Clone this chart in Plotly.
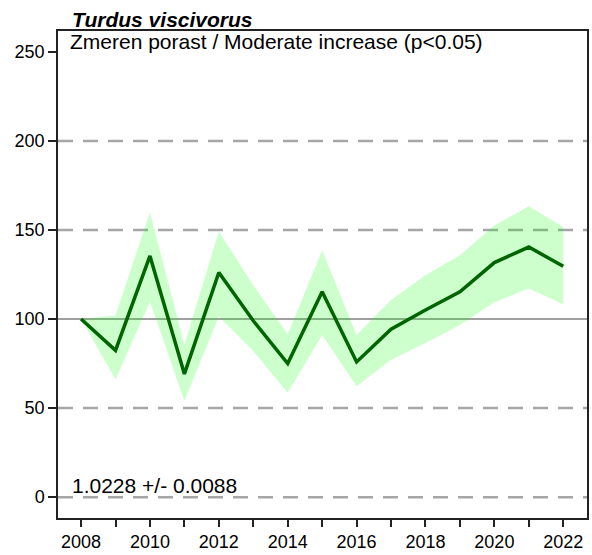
import plotly.graph_objects as go

# Yearly index (2008 = 100) with its confidence band
years = list(range(2008, 2023))
index_values = [100, 82.4, 135.4, 69.2, 126.1, 99.0, 75.0, 115.3, 75.9, 94.3,
                105.1, 115.3, 131.7, 140.4, 129.6]
upper_ci = [100, 102.0, 160.0, 85.6, 149.2, 119.0, 91.5, 138.6, 91.1, 110.7,
            124.6, 135.8, 152.5, 163.3, 151.6]
lower_ci = [100, 66.0, 109.8, 54.0, 101.4, 82.0, 58.6, 91.1, 62.3, 77.2,
            86.5, 96.7, 109.4, 117.2, 108.3]

y_ticks = [0, 50, 100, 150, 200, 250]
x_tick_labels = [str(y) if y % 2 == 0 else "" for y in years]
dashed_levels = [0, 50, 150, 200]
baseline_level = 100

species = "Turdus viscivorus"
trend_label = "Zmeren porast / Moderate increase (p<0.05)"
slope_label = "1.0228 +/- 0.0088"

x_range = [2007.33, 2022.69]
y_range = [-11.7, 261.7]

FONT = "Liberation Sans, Arial, sans-serif"

fig = go.Figure()

# Confidence band
fig.add_trace(go.Scatter(x=years, y=lower_ci, mode="lines",
                         line=dict(width=0), hoverinfo="skip", showlegend=False))
fig.add_trace(go.Scatter(x=years, y=upper_ci, mode="lines", fill="tonexty",
                         fillcolor="rgba(0,255,0,0.2)", line=dict(width=0),
                         hoverinfo="skip", showlegend=False))
# Index line
fig.add_trace(go.Scatter(x=years, y=index_values, mode="lines",
                         line=dict(color="#006400", width=3.5),
                         showlegend=False))

# Reference lines
for lvl in dashed_levels:
    fig.add_shape(type="line", xref="paper", x0=0, x1=1, yref="y", y0=lvl, y1=lvl,
                  line=dict(color="#a6a6a6", width=2.5, dash="15px,10px"),
                  layer="below")
fig.add_shape(type="line", xref="paper", x0=0, x1=1, yref="y",
              y0=baseline_level, y1=baseline_level,
              line=dict(color="#a0a0a0", width=2), layer="below")

fig.add_annotation(text="<b><i>" + species + "</i></b>", xref="paper", yref="paper",
                   x=0.0226, y=0.996, xanchor="left", yanchor="bottom", showarrow=False,
                   font=dict(family=FONT, size=21, color="black"))
fig.add_annotation(text=trend_label, xref="paper", yref="paper",
                   x=0.0185, y=1.006, xanchor="left", yanchor="top", showarrow=False,
                   font=dict(family=FONT, size=21, color="black"))
fig.add_annotation(text=slope_label, xref="paper", yref="paper",
                   x=0.0226, y=0.039, xanchor="left", yanchor="bottom", showarrow=False,
                   font=dict(family=FONT, size=21, color="black"))

fig.update_layout(
    width=592, height=555,
    margin=dict(l=58, r=3, t=31, b=34),
    paper_bgcolor="white", plot_bgcolor="white",
    font=dict(family=FONT, size=18, color="black"),
    xaxis=dict(range=x_range, tickvals=years, ticktext=x_tick_labels,
               ticks="outside", ticklen=7, tickwidth=2, tickcolor="#222",
               showgrid=False, zeroline=False, showline=True, linecolor="#222",
               linewidth=1.5, mirror=True, tickfont=dict(size=18)),
    yaxis=dict(range=y_range, tickvals=y_ticks,
               ticks="outside", ticklen=8, tickwidth=2, tickcolor="#222",
               showgrid=False, zeroline=False, showline=True, linecolor="#222",
               linewidth=1.5, mirror=True, tickfont=dict(size=18)),
)

fig.write_html("out.html")
